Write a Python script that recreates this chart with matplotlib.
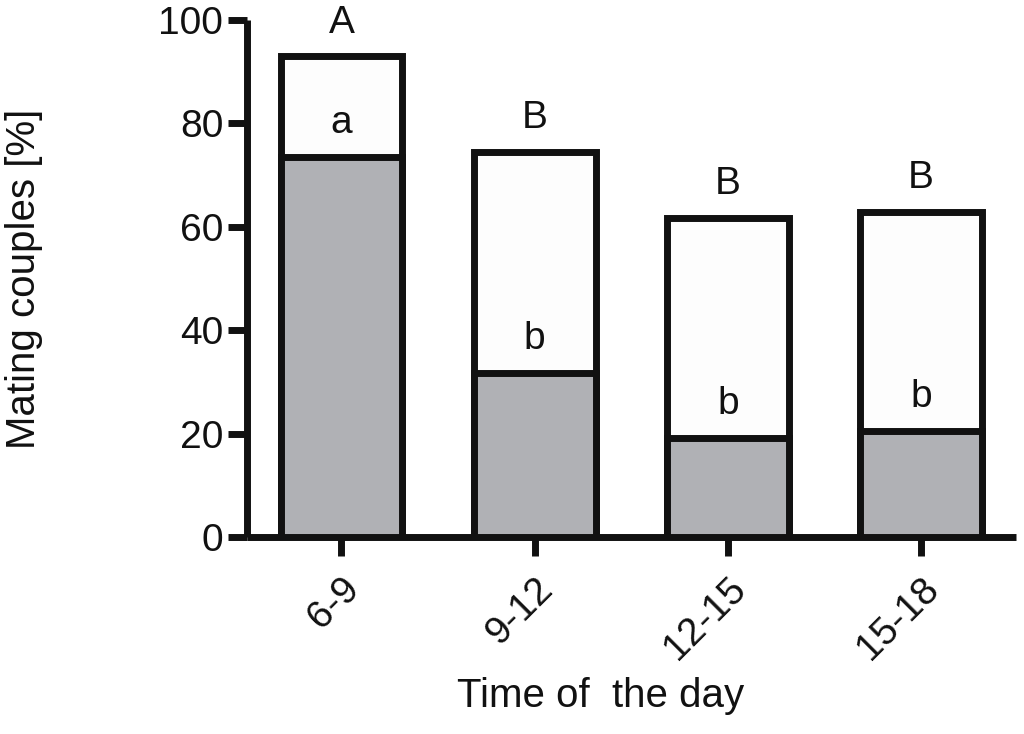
import matplotlib.pyplot as plt
import matplotlib.transforms as mtransforms
import numpy as np

plt.rcParams['font.family'] = ['Liberation Sans', 'DejaVu Sans']
plt.rcParams['font.size'] = 22

# data
periods = ['6-9', '9-12', '12-15', '15-18']
total = [93.0, 74.5, 61.7, 62.9]
lower = [73.5, 31.8, 19.2, 20.6]
upper_letters = ['A', 'B', 'B', 'B']
lower_letters = ['a', 'b', 'b', 'b']

fig = plt.figure(figsize=(10.24, 7.34), dpi=100)
ax = fig.add_axes([0.241, 0.268, 0.751, 0.705])

x = np.arange(len(periods))
lw = 5
w = 0.63

ax.bar(x, total, width=w, color='#fdfdfd', edgecolor='#111111', linewidth=lw, zorder=2)
ax.bar(x, lower, width=w, color='#b0b1b5', edgecolor='#111111', linewidth=lw, zorder=3)

for i in range(len(periods)):
    ax.text(x[i], total[i] + 3.0, upper_letters[i], ha='center', va='bottom', fontsize=28, color='#111111')
    ax.text(x[i], lower[i] + 6.5, lower_letters[i], ha='center', va='center', fontsize=28, color='#111111')

ax.set_xlim(-0.49, 3.49)
ax.set_ylim(0, 100)
ax.set_yticks([0, 20, 40, 60, 80, 100])
ax.set_xticks(x)
ax.set_xticklabels(periods, rotation=45, ha='right', rotation_mode='anchor')

# shift rotated tick labels a bit to the right
offset = mtransforms.ScaledTranslation(14 / 72., 0, fig.dpi_scale_trans)
for lab in ax.get_xticklabels():
    lab.set_transform(lab.get_transform() + offset)

for side in ['top', 'right']:
    ax.spines[side].set_visible(False)
for side in ['left', 'bottom']:
    ax.spines[side].set_linewidth(lw)
    ax.spines[side].set_color('#111111')
    ax.spines[side].set_capstyle('butt')

ax.tick_params(axis='both', direction='out', length=14, width=lw, color='#111111', labelsize=28, labelcolor='#111111')
ax.tick_params(axis='x', pad=10)
ax.tick_params(axis='y', pad=3)

ax.set_ylabel('Mating couples [%]', fontsize=29, color='#111111')
ax.set_xlabel('Time of  the day', fontsize=29, color='#111111')
ax.yaxis.set_label_coords(-0.265, 0.5)
ax.xaxis.set_label_coords(0.46, -0.27)

plt.savefig('out.png', dpi=100)
